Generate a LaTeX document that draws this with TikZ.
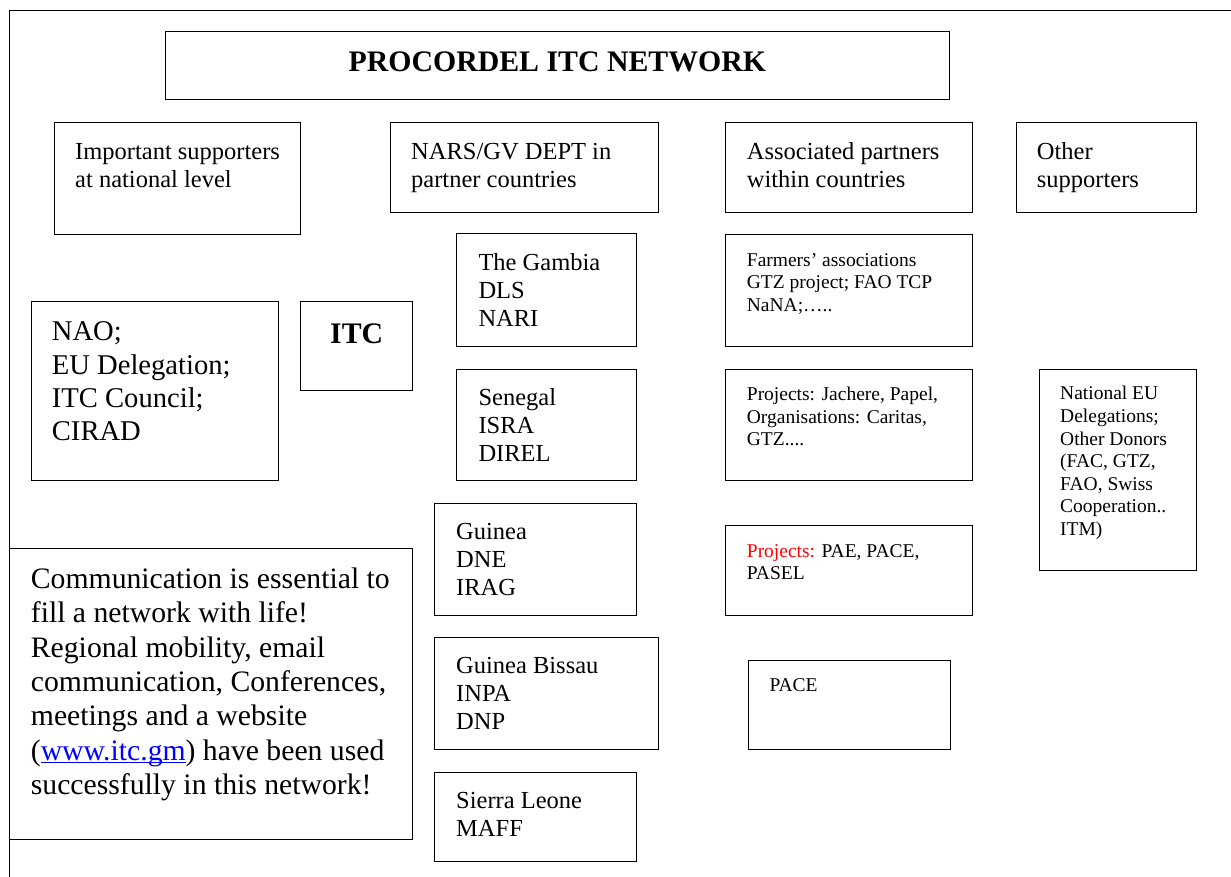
\documentclass[tikz,border=0pt]{standalone}
\usepackage{fontspec}
\setmainfont{Liberation Serif}
\usetikzlibrary{calc}
\newcommand\weblink[1]{\textcolor{linkblue}{\setbox0\hbox{#1}\rlap{\rule[-0.1em]{\wd0}{0.05em}}\box0}}
\definecolor{linkblue}{RGB}{0,0,255}
\definecolor{projred}{RGB}{255,0,0}
\newcommand\mkbox[5]{\node[boxn, minimum width=#4pt, minimum height=#5pt] (#1) at (#2,#3) {};}
\tikzset{
  boxn/.style={draw=black, line width=1pt, rectangle, anchor=north west, inner sep=0pt, outer sep=0pt},
  txt/.style={anchor=north west, inner sep=0pt, align=left},
  hdr/.style={font=\fontsize{24.5}{28}\selectfont},
  big/.style={font=\fontsize{28.6}{33.3}\selectfont},
  comm/.style={font=\fontsize{29.7}{34.3}\selectfont},
  sml/.style={font=\fontsize{19.5}{22.6}\selectfont},
  bold/.style={font=\fontsize{29.8}{34}\selectfont\bfseries, inner sep=0pt},
  frame/.style={draw=black, line width=1pt}
}
\begin{document}
\begin{tikzpicture}[x=1pt,y=-1pt]
\useasboundingbox (0,0) rectangle (1231,877);
% outer frame (cut off at right and bottom)
\draw[frame] (9.3,877) -- (9.3,10.7) -- (1231,10.7);
% boxes
\mkbox{title}{165.7}{31.7}{783.3}{68.3}
\mkbox{imp}{54}{122.7}{246.7}{112.3}
\mkbox{nars}{390}{122.5}{268.3}{89.8}
\mkbox{assoc}{725.7}{122.7}{246.6}{89.6}
\mkbox{other}{1016.7}{122.7}{179.3}{89.6}
\mkbox{nao}{31.7}{301.7}{246.6}{179}
\mkbox{itc}{300.7}{301.7}{112}{89}
\mkbox{gambia}{456.7}{234}{180}{112.7}
\mkbox{senegal}{456.7}{369}{180}{111.7}
\mkbox{guinea}{434.7}{503.3}{202}{112.4}
\mkbox{bissau}{434.7}{637.7}{224}{111.6}
\mkbox{sierra}{434.7}{772}{202}{89.7}
\mkbox{farmers}{725.7}{235}{246.6}{111.7}
\mkbox{jachere}{725.7}{369.3}{246.6}{111.4}
\mkbox{pae}{725.7}{525.7}{246.6}{89.3}
\mkbox{pace}{748.3}{660}{201.7}{89.3}
\mkbox{nateu}{1039.3}{369.3}{156.7}{200.7}
\mkbox{comm}{9.3}{548.3}{403.4}{290.7}
% texts
\node[bold, anchor=base] (titleT) at ($(title.north)+(0,40.3)$) {PROCORDEL ITC NETWORK};
\node[bold, anchor=base] (itcT) at ($(itc.north)+(0,41.6)$) {ITC};
\node[txt, hdr] (impT) at ([shift={(21pt,-17pt)}]imp.north west) {\strut Important supporters\\at national level};
\node[txt, hdr] (narsT) at ([shift={(21pt,-17pt)}]nars.north west) {\strut NARS/GV DEPT in\\partner countries};
\node[txt, hdr] (assocT) at ([shift={(21pt,-17pt)}]assoc.north west) {\strut Associated partners\\within countries};
\node[txt, hdr] (otherT) at ([shift={(20pt,-17pt)}]other.north west) {\strut Other\\supporters};
\node[txt, big] (naoT) at ([shift={(20pt,-15.5pt)}]nao.north west) {\strut NAO;\\EU Delegation;\\ITC Council;\\CIRAD};
\node[txt, hdr] (gambiaT) at ([shift={(21.6pt,-16.4pt)}]gambia.north west) {\strut The Gambia\\DLS\\NARI};
\node[txt, hdr] (senegalT) at ([shift={(21.6pt,-16.4pt)}]senegal.north west) {\strut Senegal\\ISRA\\DIREL};
\node[txt, hdr] (guineaT) at ([shift={(21.3pt,-16.4pt)}]guinea.north west) {\strut Guinea\\DNE\\IRAG};
\node[txt, hdr] (bissauT) at ([shift={(21.3pt,-16.4pt)}]bissau.north west) {\strut Guinea Bissau\\INPA\\DNP};
\node[txt, hdr] (sierraT) at ([shift={(21.3pt,-16.4pt)}]sierra.north west) {\strut Sierra Leone\\MAFF};
\node[txt, sml] (farmersT) at ([shift={(21pt,-15.3pt)}]farmers.north west) {\strut Farmers’ associations\\GTZ project; FAO TCP\\NaNA;…..};
\node[txt, sml] (jachereT) at ([shift={(21pt,-15.3pt)}]jachere.north west) {\strut Projects: Jachere, Papel,\\Organisations: Caritas,\\GTZ....};
\node[txt, sml] (paeT) at ([shift={(21pt,-15.3pt)}]pae.north west) {\strut\textcolor{projred}{Projects:} PAE, PACE,\\PASEL};
\node[txt, sml] (paceT) at ([shift={(21pt,-15pt)}]pace.north west) {\strut PACE};
\node[txt, sml] (nateuT) at ([shift={(20.7pt,-14.5pt)}]nateu.north west) {\strut National EU\\Delegations;\\Other Donors\\(FAC, GTZ,\\FAO, Swiss\\Cooperation..\\ITM)};
\node[txt, comm] (commT) at ([shift={(21.4pt,-16pt)}]comm.north west) {\strut Communication is essential to\\fill a network with life!\\Regional mobility, email\\communication, Conferences,\\meetings and a website\\(\weblink{www.itc.gm}) have been used\\successfully in this network!};
\end{tikzpicture}
\end{document}
